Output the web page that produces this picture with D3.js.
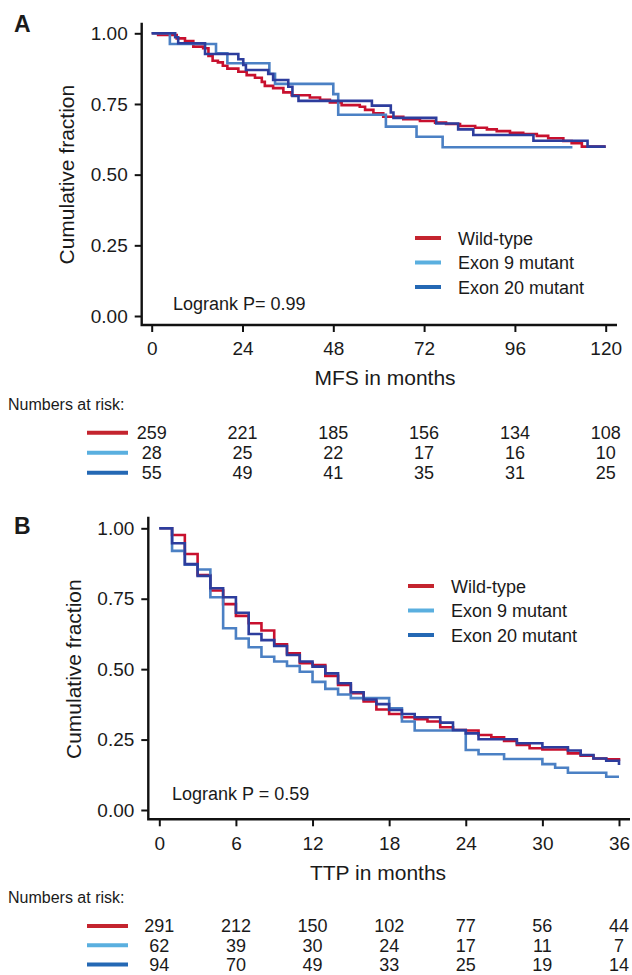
<!DOCTYPE html>
<html>
<head>
<meta charset="utf-8">
<script src="https://cdn.jsdelivr.net/npm/d3@7"></script>
<style>
    body { margin: 0; background: #fff; }
    svg text { font-family: "Liberation Sans", Arial, Helvetica, sans-serif; fill: #1a1a1a; }
</style>
</head>
<body>
<div id="chart"></div>
<script>
// ---- data ----
let groupNames = ['Wild-type', 'Exon 9 mutant', 'Exon 20 mutant'];

// Panel A: MFS (months)
let mfsTimeWT = [0, 1.7, 6.6, 8.8, 11, 13.6, 15, 16.1, 17.5, 18.8, 20, 22.9, 25.1, 27.3, 29.1, 29.9, 32.1, 34.8, 37, 41.8, 44.5, 47.1, 50.2, 55, 56.4, 58.6, 61.2, 66.5, 70.9, 74.9, 77.8, 81.5, 85.5, 88.6, 91.2, 94.7, 98.2, 101.8, 104.8, 108.8, 111, 113.7, 120];
let mfsSurvWT = [1, 0.994, 0.982, 0.973, 0.953, 0.947, 0.920, 0.903, 0.897, 0.885, 0.875, 0.864, 0.852, 0.843, 0.828, 0.814, 0.806, 0.791, 0.781, 0.773, 0.765, 0.755, 0.746, 0.740, 0.729, 0.717, 0.705, 0.696, 0.690, 0.684, 0.679, 0.672, 0.666, 0.660, 0.654, 0.648, 0.644, 0.637, 0.629, 0.619, 0.611, 0.599, 0.599];
let mfsTimeEx9 = [0, 4.8, 17, 20, 31.1, 32.6, 48, 49.3, 61.9, 70, 76.9, 111.2];
let mfsSurvEx9 = [1, 0.962, 0.929, 0.894, 0.857, 0.821, 0.785, 0.712, 0.670, 0.634, 0.597, 0.597];
let mfsTimeEx20 = [0, 6.2, 7, 14.1, 22.9, 24.2, 24.9, 30.8, 32.1, 36.1, 37.2, 38.8, 58.2, 63.2, 63.9, 75.2, 81, 85, 100.9, 115.2, 120];
let mfsSurvEx20 = [1, 0.986, 0.965, 0.927, 0.908, 0.888, 0.870, 0.856, 0.835, 0.811, 0.778, 0.761, 0.744, 0.720, 0.701, 0.681, 0.660, 0.640, 0.620, 0.599, 0.599];
let mfsTicks = [0, 24, 48, 72, 96, 120];
let mfsRisk = [
    [259, 221, 185, 156, 134, 108],
    [28, 25, 22, 17, 16, 10],
    [55, 49, 41, 35, 31, 25]
];

// Panel B: TTP (months)
let ttpTimeWT = [0, 1, 2, 3, 4, 5, 6, 7, 8, 9, 10, 11, 12, 13, 14, 15, 16, 17, 18, 19, 20, 21, 22, 23, 24, 25, 26, 27, 28, 29, 30, 32, 33, 34, 35, 36];
let ttpSurvWT = [1, 0.976, 0.909, 0.834, 0.779, 0.731, 0.689, 0.663, 0.637, 0.588, 0.556, 0.521, 0.515, 0.476, 0.444, 0.415, 0.385, 0.357, 0.341, 0.329, 0.322, 0.314, 0.294, 0.284, 0.282, 0.266, 0.258, 0.245, 0.231, 0.219, 0.215, 0.201, 0.193, 0.183, 0.180, 0.175];
let ttpTimeEx9 = [0, 1, 2, 3, 4, 5, 6, 7, 8, 9, 10, 11, 12, 13, 14, 15, 18, 19, 20, 24, 25, 27, 30, 31, 32, 35, 36];
let ttpSurvEx9 = [1, 0.920, 0.871, 0.854, 0.755, 0.645, 0.609, 0.578, 0.544, 0.527, 0.511, 0.491, 0.455, 0.430, 0.410, 0.397, 0.361, 0.314, 0.282, 0.213, 0.198, 0.181, 0.163, 0.150, 0.132, 0.118, 0.118];
let ttpTimeEx20 = [0, 1, 2, 3, 4, 5, 6, 7, 8, 9, 10, 11, 12, 13, 14, 15, 16, 17, 18, 19, 20, 22, 23, 24, 25, 28, 30, 32, 33, 34, 35, 36];
let ttpSurvEx20 = [1, 0.947, 0.873, 0.831, 0.787, 0.755, 0.700, 0.625, 0.603, 0.582, 0.550, 0.527, 0.509, 0.485, 0.450, 0.418, 0.392, 0.376, 0.355, 0.341, 0.329, 0.310, 0.284, 0.272, 0.251, 0.237, 0.223, 0.211, 0.195, 0.183, 0.175, 0.160];
let ttpTicks = [0, 6, 12, 18, 24, 30, 36];
let ttpRisk = [
    [291, 212, 150, 102, 77, 56, 44],
    [62, 39, 30, 24, 17, 11, 7],
    [94, 70, 49, 33, 25, 19, 14]
];

let yTicks = [0, 0.25, 0.5, 0.75, 1];

// curve colours and legend / risk-table swatch colours
let curveColors = ['#c8102e', '#4b80c4', '#2d3d9d'];
let swatchColors = ['#c4242e', '#5aafdf', '#2468b4'];


class KMPanel {

    constructor(svg, opts) {
        this.svg = svg;
        this.opts = opts;
        this.initVis();
    }

    initVis() {
        let vis = this;
        let o = vis.opts;

        vis.g = vis.svg.append('g').attr('class', 'panel');

        vis.x = d3.scaleLinear().domain(o.xDomain).range(o.xRange);
        vis.y = d3.scaleLinear().domain([0, 1]).range(o.yRange);

        // panel letter
        vis.g.append('text')
            .attr('x', 14).attr('y', o.letterY)
            .attr('font-size', '23px').attr('font-weight', 'bold')
            .text(o.letter);

        // y axis
        let yAxis = d3.axisLeft(vis.y).tickValues(yTicks).tickFormat(d3.format('.2f'))
            .tickSize(7).tickPadding(7);
        let yg = vis.g.append('g')
            .attr('transform', `translate(${o.axisX},0)`)
            .call(yAxis);
        yg.select('.domain').remove();
        yg.selectAll('.tick line').attr('stroke', '#111').attr('stroke-width', 2);
        yg.selectAll('.tick text').attr('font-size', '19px').attr('fill', '#1a1a1a')
            .style('font-family', '"Liberation Sans", Arial, sans-serif');

        // x axis
        let xAxis = d3.axisBottom(vis.x).tickValues(o.ticks).tickSize(7).tickPadding(10);
        let xg = vis.g.append('g')
            .attr('transform', `translate(0,${o.axisY})`)
            .call(xAxis);
        xg.select('.domain').remove();
        xg.selectAll('.tick line').attr('stroke', '#111').attr('stroke-width', 2);
        xg.selectAll('.tick text').attr('font-size', '19px').attr('fill', '#1a1a1a')
            .style('font-family', '"Liberation Sans", Arial, sans-serif');

        // axis lines
        vis.g.append('path')
            .attr('d', `M${o.axisX},${o.axisTop}V${o.axisY}H${o.axisRight}`)
            .attr('fill', 'none').attr('stroke', '#111').attr('stroke-width', 2.4);

        // axis titles
        vis.g.append('text')
            .attr('transform', `translate(${o.yTitleX},${(o.yRange[0] + o.yRange[1]) / 2}) rotate(-90)`)
            .attr('text-anchor', 'middle').attr('font-size', '21px')
            .text('Cumulative fraction');

        vis.g.append('text')
            .attr('x', o.xTitleX).attr('y', o.xTitleY)
            .attr('text-anchor', 'middle').attr('font-size', '21px')
            .text(o.xTitle);

        // logrank
        vis.g.append('text')
            .attr('x', o.logrankX).attr('y', o.logrankY)
            .attr('font-size', '18px')
            .text(o.logrank);

        vis.line = d3.line()
            .x(d => vis.x(d[0]))
            .y(d => vis.y(d[1]))
            .curve(d3.curveStepAfter);

        vis.drawCurves();
        vis.drawLegend();
        vis.drawRiskTable();
    }

    drawCurves() {
        let vis = this;
        vis.opts.series.forEach((s, i) => {
            let pts = s.time.map((t, j) => [t, s.surv[j]]);
            vis.g.append('path')
                .datum(pts)
                .attr('class', 'km-curve')
                .attr('fill', 'none')
                .attr('stroke', curveColors[i])
                .attr('stroke-width', 2.6)
                .attr('d', vis.line);
        });
    }

    drawLegend() {
        let vis = this;
        let o = vis.opts;
        let lg = vis.g.append('g').attr('transform', `translate(${o.legendX},${o.legendY})`);
        groupNames.forEach((name, i) => {
            lg.append('line')
                .attr('x1', 0).attr('x2', 26)
                .attr('y1', i * 24.5).attr('y2', i * 24.5)
                .attr('stroke', swatchColors[i]).attr('stroke-width', 4);
            lg.append('text')
                .attr('x', 43).attr('y', i * 24.5 + 6.5)
                .attr('font-size', '18px')
                .text(name);
        });
    }

    drawRiskTable() {
        let vis = this;
        let o = vis.opts;

        vis.g.append('text')
            .attr('x', 8).attr('y', o.riskTitleY)
            .attr('font-size', '16px')
            .text('Numbers at risk:');

        o.risk.forEach((row, i) => {
            let cy = o.riskY + i * o.riskStep;
            vis.g.append('line')
                .attr('x1', 87).attr('x2', 128)
                .attr('y1', cy).attr('y2', cy)
                .attr('stroke', swatchColors[i]).attr('stroke-width', 4);
            vis.g.selectAll(null)
                .data(row)
                .enter().append('text')
                .attr('x', (d, j) => vis.x(o.ticks[j]))
                .attr('y', cy + 6.3)
                .attr('text-anchor', 'middle')
                .attr('font-size', '18px')
                .text(d => d);
        });
    }
}

let svg = d3.select('#chart').append('svg')
    .attr('width', 632)
    .attr('height', 975);

new KMPanel(svg, {
    letter: 'A', letterY: 32,
    xDomain: [0, 120], xRange: [151.7, 605.7], yRange: [316, 33.3],
    axisX: 141.7, axisY: 325, axisTop: 22.7, axisRight: 617,
    ticks: mfsTicks,
    yTitleX: 74, xTitleX: 385, xTitleY: 385, xTitle: 'MFS in months',
    logrankX: 173, logrankY: 310, logrank: 'Logrank P= 0.99',
    legendX: 415, legendY: 238,
    riskTitleY: 410, riskY: 432.7, riskStep: 20, risk: mfsRisk,
    series: [
        {time: mfsTimeWT, surv: mfsSurvWT},
        {time: mfsTimeEx9, surv: mfsSurvEx9},
        {time: mfsTimeEx20, surv: mfsSurvEx20}
    ]
});

new KMPanel(svg, {
    letter: 'B', letterY: 534,
    xDomain: [0, 36], xRange: [159.3, 619], yRange: [810, 528.3],
    axisX: 148.3, axisY: 819.3, axisTop: 516.7, axisRight: 630,
    ticks: ttpTicks,
    yTitleX: 81, xTitleX: 378, xTitleY: 880, xTitle: 'TTP in months',
    logrankX: 172, logrankY: 800, logrank: 'Logrank P = 0.59',
    legendX: 408, legendY: 586,
    riskTitleY: 903, riskY: 926, riskStep: 19.2, risk: ttpRisk,
    series: [
        {time: ttpTimeWT, surv: ttpSurvWT},
        {time: ttpTimeEx9, surv: ttpSurvEx9},
        {time: ttpTimeEx20, surv: ttpSurvEx20}
    ]
});
</script>
</body>
</html>
